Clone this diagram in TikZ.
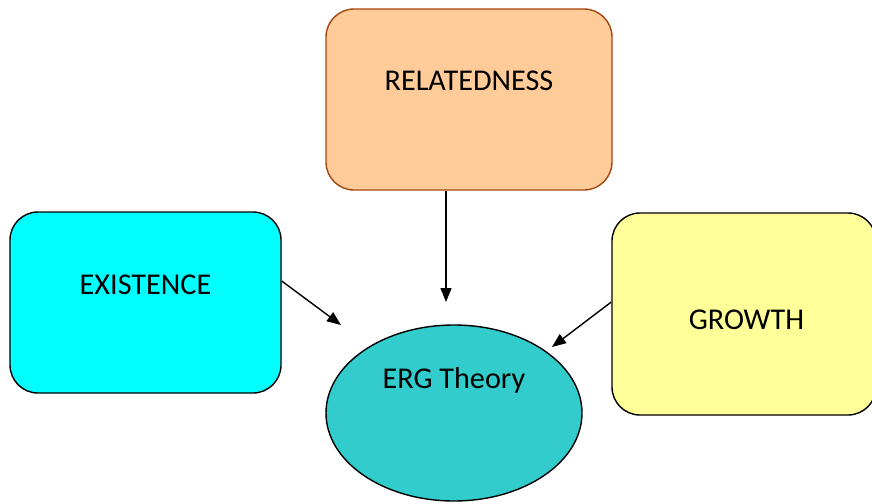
\documentclass[tikz,border=0pt]{standalone}
\usepackage{fontspec}
\setmainfont{Carlito}
\usetikzlibrary{shapes.geometric,arrows.meta,calc}
\definecolor{peach}{HTML}{FFCC99}
\definecolor{peachline}{HTML}{A5460F}
\definecolor{cyanbox}{HTML}{00FFFF}
\definecolor{yellowbox}{HTML}{FFFF99}
\definecolor{ergfill}{HTML}{33CCCC}
\tikzset{
  x=1pt, y=-1pt,
  needbox/.style={draw=black, line width=1.4pt, rounded corners=28pt, inner sep=0pt},
  label text/.style={font=\fontsize{30.2}{36}\selectfont, anchor=base, inner sep=0pt},
  arr/.style={line width=1.4pt, -{Triangle[length=14pt,width=11pt]}}
}
\begin{document}
\begin{tikzpicture}
\useasboundingbox (0,0) rectangle (872,503);
% boxes
\node[needbox, draw=peachline, fill=peach, minimum width=286pt, minimum height=181pt] (rel) at (469,99.5) {};
\node[needbox, fill=cyanbox, minimum width=271pt, minimum height=181pt] (ex) at (145.5,302.5) {};
\node[needbox, fill=yellowbox, minimum width=264pt, minimum height=202pt] (gr) at (744,314) {};
\node[draw=black, line width=1.4pt, fill=ergfill, ellipse, minimum width=256pt, minimum height=176pt, inner sep=0pt] (erg) at (454,413) {};
% texts
\node[label text] (relt) at (469,90.5) {RELATEDNESS};
\node[label text] (ext) at (145.5,294) {EXISTENCE};
\node[label text] (grt) at (746.5,329) {GROWTH};
\node[label text] (ergt) at (454,388) {ERG Theory};
% arrow tips
\coordinate (tipr) at (446,302);
\coordinate (tipe) at (341,325);
\coordinate (tipg) at (552,347);
% arrows
\draw[arr] (rel.south -| tipr) -- (tipr);
\draw[arr] ($(ex.east)+(0,-21.5)$) -- (tipe);
\draw[arr] ($(gr.west)+(0,-12)$) -- (tipg);
\end{tikzpicture}
\end{document}
